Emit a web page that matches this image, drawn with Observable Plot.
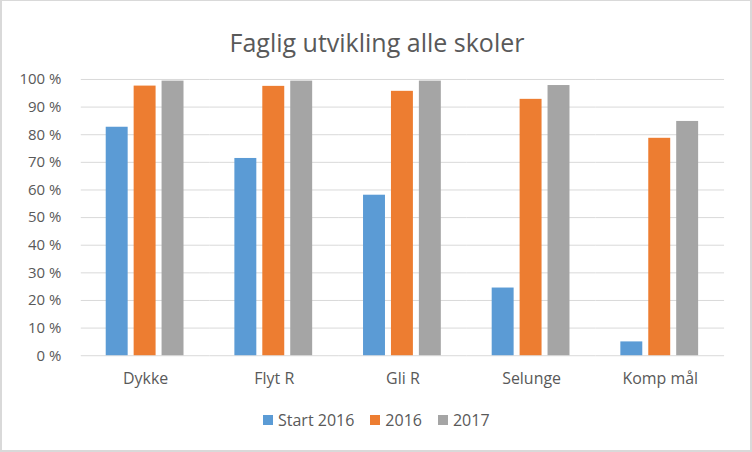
<!DOCTYPE html>
<html>
<head>
<meta charset="utf-8">
<script src="https://cdn.jsdelivr.net/npm/d3@7"></script>
<script src="https://cdn.jsdelivr.net/npm/@observablehq/plot@0.6"></script>
<style>
  html, body { margin: 0; padding: 0; background: #fff; }
  #wrap { position: relative; width: 752px; height: 452px; box-sizing: border-box; border: 2px solid #d9d9d9; border-top-width: 1px; overflow: hidden; font-family: "Open Sans", "Noto Sans", sans-serif; color: #595959; }
  #title { position: absolute; left: 0; top: 26px; width: 750px; text-align: center; font-size: 25px; line-height: 30px; color: #595959; }
  #chart { position: absolute; left: -2px; top: 61px; }
  #legend { position: absolute; left: 261px; top: 408px; display: flex; align-items: center; font-size: 16px; color: #595959; }
  .item { display: flex; align-items: center; margin-right: 16px; }
  .sw { width: 10px; height: 10px; margin-right: 5px; }
  g[aria-label^="fx-axis"] text { font-size: 16px; }
</style>
</head>
<body>
<div id="wrap">
  <div id="title">Faglig utvikling alle skoler</div>
  <div id="chart"></div>
  <div id="legend"></div>
</div>
<script>
const categories = ["Dykke", "Flyt R", "Gli R", "Selunge", "Komp mål"];
const series = ["Start 2016", "2016", "2017"];
const colors = ["#5B9BD5", "#ED7D31", "#A5A5A5"];
const start2016 = [0.827, 0.714, 0.581, 0.245, 0.05];
const v2016 = [0.976, 0.975, 0.957, 0.928, 0.787];
const v2017 = [0.994, 0.994, 0.994, 0.978, 0.848];
const yTicks = [0, 0.1, 0.2, 0.3, 0.4, 0.5, 0.6, 0.7, 0.8, 0.9, 1];

const valuesBySeries = [start2016, v2016, v2017];
const data = [];
categories.forEach((c, i) => {
  series.forEach((s, j) => data.push({category: c, series: s, value: valuesBySeries[j][i]}));
});

const chart = Plot.plot({
  width: 752,
  height: 334,
  marginTop: 17,
  marginBottom: 40,
  marginLeft: 80,
  marginRight: 26,
  style: {fontFamily: "'Open Sans', 'Noto Sans', sans-serif", fontSize: "15px", color: "#595959", background: "transparent"},
  facet: {data, x: "category"},
  fx: {domain: categories, padding: 0, label: null, tickSize: 0, tickPadding: 17},
  x: {domain: series, paddingInner: 0.21, paddingOuter: 0.886, axis: null},
  y: {domain: [0, 1], ticks: yTicks, tickFormat: d => Math.round(d * 100) + " %", label: null, tickSize: 0, tickPadding: 20, grid: false},
  color: {domain: series, range: colors},
  marks: [
    Plot.ruleY(yTicks, {stroke: "#d9d9d9", strokeOpacity: 1, strokeWidth: 1}),
    Plot.barY(data, {x: "series", y: "value", fill: "series"})
  ]
});
document.getElementById("chart").appendChild(chart);

const legend = document.getElementById("legend");
series.forEach((s, j) => {
  const item = document.createElement("div");
  item.className = "item";
  const sw = document.createElement("span");
  sw.className = "sw";
  sw.style.background = colors[j];
  const t = document.createElement("span");
  t.textContent = s;
  item.appendChild(sw);
  item.appendChild(t);
  legend.appendChild(item);
});
</script>
</body>
</html>
